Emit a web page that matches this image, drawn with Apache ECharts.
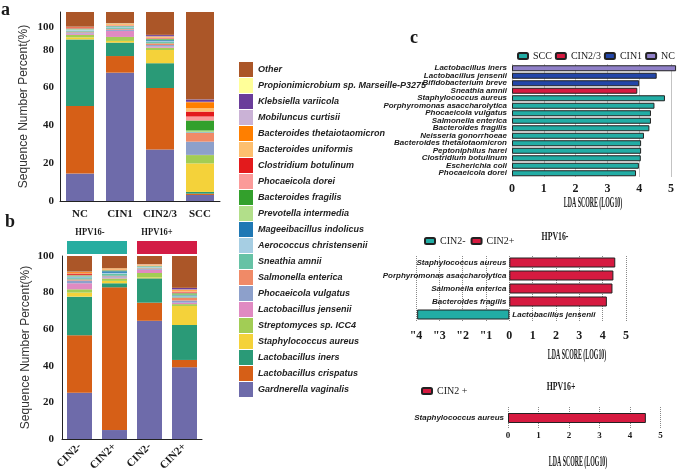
<!DOCTYPE html>
<html><head><meta charset="utf-8">
<script src="https://cdn.jsdelivr.net/npm/echarts@6/dist/echarts.min.js"></script>
<style>html,body{margin:0;padding:0;background:#fff}#c{width:678px;height:470px}</style>
</head><body><div id="c"></div>
<script>
// ---- species (stack order, bottom -> top) ----
const species = ['Gardnerella vaginalis','Lactobacillus crispatus','Lactobacillus iners','Staphylococcus aureus','Streptomyces sp. ICC4','Lactobacillus jensenii','Phocaeicola vulgatus','Salmonella enterica','Sneathia amnii','Aerococcus christensenii','Mageeibacillus indolicus','Prevotella intermedia','Bacteroides fragilis','Phocaeicola dorei','Clostridium botulinum','Bacteroides uniformis','Bacteroides thetaiotaomicron','Mobiluncus curtisii','Klebsiella variicola','Propionimicrobium sp. Marseille-P3275','Other'];
const speciesColors = ['#6E6BAA','#D65F17','#2A9A77','#F4D23A','#A2CD55','#E08AC2','#8DA0CB','#F08A67','#66C2A5','#A6CEE3','#1F78B4','#B2DF8A','#33A02C','#FB9A99','#E31A1C','#FDBF6F','#FF7F00','#CAB2D6','#6A3D9A','#FFFF99','#AB5628'];

// ---- panel a ----
const groupsA = ['NC','CIN1','CIN2/3','SCC'];
const valsNC   = [14.5,35.8,35.2,1.1,1.3,0.7,0.6,0.4,0.5,0.4,0.2,0.3,0.2,0.2,0.5,0.1,0.1,0.05,0.05,0.05,7.75];
const valsCIN1 = [67.9,8.8,7.1,0.9,2.1,3.2,0.7,0.4,0.5,0.4,0.3,0.2,0.1,0.3,0.1,0.8,0.1,0.05,0.05,0.1,5.9];
const valsCIN23= [27.3,32.5,13.1,7.0,1.2,0.6,0.8,0.9,0.7,0.5,0.5,0.3,0.4,0.3,0.2,0.4,0.3,0.2,0.6,0.1,12.1];
const valsSCC  = [3.2,0.7,0.9,15.1,4.4,0.1,7.0,4.7,0.2,0.1,0.1,0.8,5.3,2.1,2.6,1.8,3.2,0.2,1.3,0.1,46.1];
const yTickValsA = [0,20,40,60,80,92];
const yTickTextA = ['0','20','40','60','80','100'];

// ---- panel b ----
const groupsB = ['CIN2-','CIN2+','CIN2-','CIN2+'];
const valsB1 = [25.3,31.4,21.1,2.2,1.8,3.3,1.5,0.6,0.7,0.5,0.4,0.3,0.3,0.3,0.7,0.2,0.6,0.1,0.1,0.1,8.5];
const valsB2 = [4.9,78.0,2.2,1.3,1.3,0.5,0.7,0.3,1.0,0.6,0.9,0.2,0.3,0.2,0.1,0.3,0.4,0.05,0.05,0.1,6.6];
const valsB3 = [64.6,9.9,13.3,0.5,2.4,1.8,0.5,0.3,0.4,0.3,0.2,0.2,0.1,0.1,0.1,0.5,0.2,0.1,0.05,0.05,4.4];
const valsB4 = [39.2,4.0,19.1,10.4,1.0,0.8,1.2,1.6,0.4,0.3,0.5,0.5,0.6,0.5,0.4,0.6,0.5,0.2,0.7,0.1,17.4];
const hpvHeaders = ['HPV16-','HPV16+'];

// ---- panel c (top) LEfSe ----
const cLabels = ['Lactobacillus iners','Lactobacillus jensenii','Bifidobacterium breve','Sneathia amnii','Staphylococcus aureus','Porphyromonas asaccharolytica','Phocaeicola vulgatus','Salmonella enterica','Bacteroides fragilis','Neisseria gonorrhoeae','Bacteroides thetaiotaomicron','Peptoniphilus harei','Clostridium botulinum','Escherichia coli','Phocaeicola dorei'];
const cScores = [5.16,4.55,4.0,3.94,4.81,4.48,4.37,4.37,4.32,4.15,4.06,4.06,4.05,3.99,3.90];
const cGroups = ['NC','CIN1','CIN1','CIN2/3','SCC','SCC','SCC','SCC','SCC','SCC','SCC','SCC','SCC','SCC','SCC'];
const cLegend = ['SCC','CIN2/3','CIN1','NC'];
const cColors = ['#22ADA5','#D61A40','#2346A8','#9080C8'];

// ---- panel c (middle) HPV16- ----
const mLabels = ['Staphylococcus aureus','Porphyromonas asaccharolytica','Salmonella enterica','Bacteroides fragilis','Lactobacillus jensenii'];
const mScores = [4.54,4.46,4.42,4.18,-3.95];
const mGroups = ['CIN2+','CIN2+','CIN2+','CIN2+','CIN2-'];
const mLegend = ['CIN2-','CIN2+'];
const mColors = ['#22ADA5','#D61A40'];

// ---- panel c (bottom) HPV16+ ----
const bLabels = ['Staphylococcus aureus'];
const bScores = [4.52];
const bLegend = ['CIN2 +'];

const serif = '"Liberation Serif","Times New Roman",serif';
const sans = '"Liberation Sans",Arial,sans-serif';
const ink = '#1a1a1a';

const colsA = [valsNC, valsCIN1, valsCIN23, valsSCC];
const colsB = [valsB1, valsB2, valsB3, valsB4];

const series = [];
species.forEach((sp, i) => {
  series.push({name: sp, type: 'bar', stack: 'a', xAxisIndex: 0, yAxisIndex: 0, barWidth: 28,
    data: colsA.map(c => c[i]), itemStyle: {color: speciesColors[i]}});
  series.push({name: sp, type: 'bar', stack: 'b', xAxisIndex: 1, yAxisIndex: 1, barWidth: 25,
    data: colsB.map(c => c[i]), itemStyle: {color: speciesColors[i]}});
});
cLegend.forEach((g, k) => {
  series.push({name: g, type: 'bar', stack: 'c1', xAxisIndex: 2, yAxisIndex: 2, barWidth: 6, clip: false,
    data: cScores.map((v, i) => cGroups[i] === g ? v : null),
    itemStyle: {color: cColors[k], borderColor: '#222', borderWidth: 1}});
});
const labelStyle = {fontSize: 8, fontStyle: 'italic', fontWeight: 'bold', fontFamily: sans, color: ink};
mLegend.forEach((g, k) => {
  series.push({name: g, type: 'bar', stack: 'c2', xAxisIndex: 3, yAxisIndex: 3, barWidth: 10,
    data: mScores.map((v, i) => mGroups[i] === g ? v : null),
    label: Object.assign({show: true, position: g === 'CIN2+' ? 'left' : 'right', distance: 3, formatter: '{b}'}, labelStyle),
    itemStyle: {color: mColors[k], borderColor: '#222', borderWidth: 1}});
});
series.push({name: bLegend[0], type: 'bar', xAxisIndex: 4, yAxisIndex: 4, barWidth: 10,
  data: bScores, itemStyle: {color: '#D61A40', borderColor: '#222', borderWidth: 1}});

const tickSerif = {fontFamily: serif, fontWeight: 'bold', fontSize: 11, color: ink};
const dotted = {show: true, lineStyle: {type: 'dotted', color: '#888', width: 1}};
const yName = {name: 'Sequence Number Percent(%)', nameLocation: 'middle', nameGap: 30,
  nameTextStyle: {fontFamily: sans, fontSize: 12, color: '#333'}};

function txt(text, x, y, font, align, sx) {
  return {type: 'text', x: x, y: y, scaleX: sx || 1, silent: true,
    style: {text: text, font: font, fill: ink, align: align || 'left', verticalAlign: 'middle',
            textAlign: align || 'left', textVerticalAlign: 'middle'}};
}

const option = {
  animation: false,
  backgroundColor: '#fff',
  grid: [
    {left: 60, top: 12, width: 160, height: 189, outerBoundsMode: 'none'},
    {left: 62, top: 256, width: 140, height: 183, outerBoundsMode: 'none'},
    {left: 512, top: 64.5, width: 159, height: 112.5, outerBoundsMode: 'none'},
    {left: 416, top: 256, width: 210, height: 65, outerBoundsMode: 'none'},
    {left: 508, top: 407, width: 152.5, height: 22, outerBoundsMode: 'none'}
  ],
  xAxis: [
    {gridIndex: 0, type: 'category', data: groupsA, axisLine: {lineStyle: {color: '#222'}}, axisTick: {show: false},
      axisLabel: Object.assign({margin: 8, interval: 0}, tickSerif)},
    {gridIndex: 1, type: 'category', data: groupsB, axisLine: {lineStyle: {color: '#222'}}, axisTick: {show: false},
      axisLabel: Object.assign({margin: 6, rotate: 45, interval: 0}, tickSerif)},
    {gridIndex: 2, type: 'value', min: 0, max: 5, interval: 1, axisLine: {show: false}, axisTick: {show: false},
      splitLine: dotted, axisLabel: Object.assign({margin: 6}, tickSerif, {fontSize: 12})},
    {gridIndex: 3, type: 'value', min: -4, max: 5, interval: 1, axisLine: {show: false}, axisTick: {show: false},
      splitLine: dotted, axisLabel: Object.assign({margin: 9, formatter: v => v < 0 ? '"' + (-v) : String(v)}, tickSerif, {fontSize: 12})},
    {gridIndex: 4, type: 'value', min: 0, max: 5, interval: 1, axisLine: {show: false}, axisTick: {show: false},
      splitLine: dotted, axisLabel: Object.assign({margin: 2}, tickSerif, {fontSize: 9})}
  ],
  yAxis: [
    Object.assign({gridIndex: 0, type: 'value', min: 0, max: 100, axisLine: {show: true, lineStyle: {color: '#222'}},
      axisTick: {show: false}, splitLine: {show: false},
      axisLabel: Object.assign({customValues: yTickValsA, margin: 6,
        formatter: v => yTickTextA[yTickValsA.indexOf(v)] !== undefined ? yTickTextA[yTickValsA.indexOf(v)] : ''}, tickSerif)}, yName),
    Object.assign({gridIndex: 1, type: 'value', min: 0, max: 100, interval: 20, axisLine: {show: true, lineStyle: {color: '#222'}},
      axisTick: {show: false}, splitLine: {show: false},
      axisLabel: Object.assign({margin: 8}, tickSerif)}, yName),
    {gridIndex: 2, type: 'category', inverse: true, data: cLabels, axisLine: {show: false}, axisTick: {show: false},
      axisLabel: Object.assign({margin: 5, interval: 0}, labelStyle)},
    {gridIndex: 3, type: 'category', inverse: true, data: mLabels, axisLine: {show: false}, axisTick: {show: false},
      axisLabel: {show: false}},
    {gridIndex: 4, type: 'category', data: bLabels, axisLine: {show: false}, axisTick: {show: false},
      axisLabel: Object.assign({margin: 4}, labelStyle)}
  ],
  legend: [
    {data: species.slice().reverse(), orient: 'vertical', left: 234, top: 57, itemWidth: 14, itemHeight: 15, itemGap: 1,
      icon: 'rect', selectedMode: false,
      textStyle: {fontSize: 9, fontStyle: 'italic', fontWeight: 'bold', fontFamily: sans, color: '#222'}},
    {data: cLegend, orient: 'horizontal', left: 512, top: 46, itemWidth: 10, itemHeight: 6, itemGap: 3, selectedMode: false,
      width: 166, textStyle: {fontSize: 10, fontFamily: serif, color: ink}},
    {data: mLegend, orient: 'horizontal', left: 419, top: 231, itemWidth: 10, itemHeight: 6, itemGap: 5, selectedMode: false,
      textStyle: {fontSize: 10, fontFamily: serif, color: ink}},
    {data: bLegend, orient: 'horizontal', left: 416, top: 381, itemWidth: 10, itemHeight: 6, itemGap: 4, selectedMode: false,
      textStyle: {fontSize: 10, fontFamily: serif, color: ink}}
  ],
  graphic: [
    txt('a', 1, 10, 'bold 18px ' + serif),
    txt('b', 5, 222, 'bold 18px ' + serif),
    txt('c', 410, 38, 'bold 18px ' + serif),
    {type: 'rect', shape: {x: 67, y: 241, width: 60, height: 13}, style: {fill: '#27ADA0'}, silent: true},
    {type: 'rect', shape: {x: 137, y: 241, width: 60, height: 13}, style: {fill: '#D31C45'}, silent: true},
    txt(hpvHeaders[0], 90, 232, 'bold 10px ' + serif, 'center', 0.85),
    txt(hpvHeaders[1], 157, 232, 'bold 10px ' + serif, 'center', 0.85),
    txt('HPV16-', 555, 237, 'bold 13px ' + serif, 'center', 0.6),
    txt('HPV16+', 561, 387, 'bold 13px ' + serif, 'center', 0.6),
    txt('LDA SCORE (LOG10)', 593, 203, 'bold 14px ' + serif, 'center', 0.42),
    txt('LDA SCORE (LOG10)', 577, 355, 'bold 14px ' + serif, 'center', 0.42),
    txt('LDA SCORE (LOG10)', 578, 462, 'bold 14px ' + serif, 'center', 0.42)
  ],
  series: series
};
const chart = echarts.init(document.getElementById('c'), null, {renderer: 'canvas'});
chart.setOption(option);
</script></body></html>
